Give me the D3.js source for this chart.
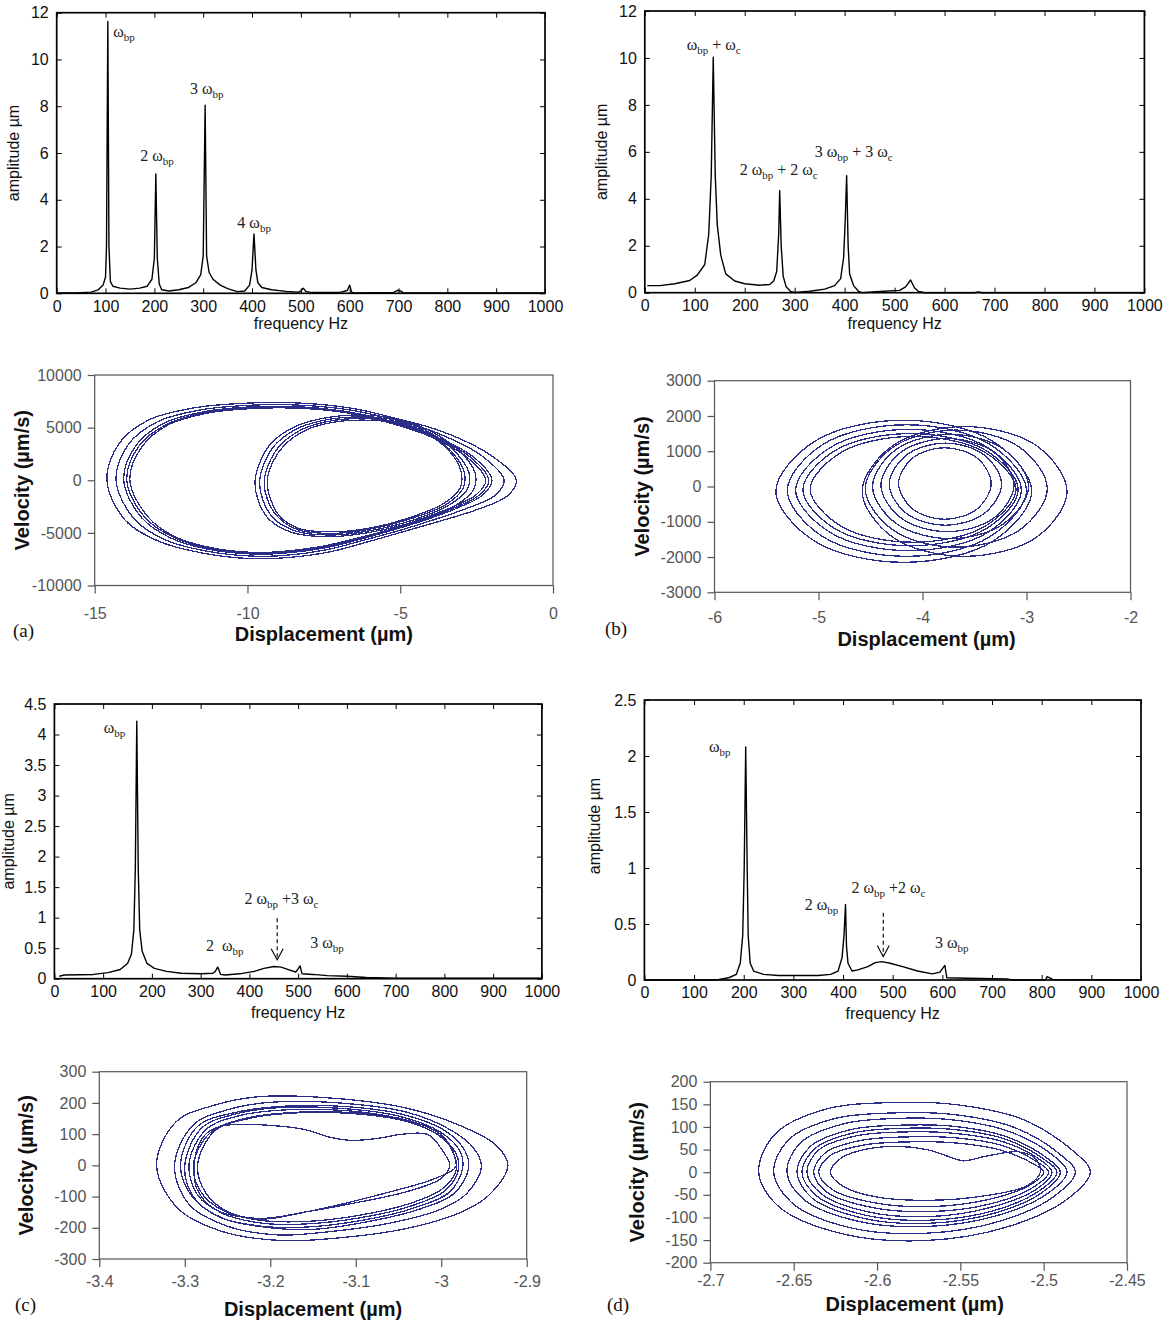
<!DOCTYPE html>
<html>
<head>
<meta charset="utf-8">
<script src="https://cdn.jsdelivr.net/npm/d3@7"></script>
<style>
  body { margin: 0; background: #fff; }
  text { white-space: pre; }
</style>
</head>
<body>
<svg id="fig" width="1173" height="1325"></svg>
<script>
// ---------- tick labels ----------
const freqTicks = [0, 100, 200, 300, 400, 500, 600, 700, 800, 900, 1000];
const ampTicksA = [0, 2, 4, 6, 8, 10, 12];
const ampTicksB = [0, 2, 4, 6, 8, 10, 12];
const ampTicksC = [0, 0.5, 1, 1.5, 2, 2.5, 3, 3.5, 4, 4.5];
const ampTicksD = [0, 0.5, 1, 1.5, 2, 2.5];

const dispTicksA = [-15, -10, -5, 0];
const velTicksA = [-10000, -5000, 0, 5000, 10000];
const dispTicksB = [-6, -5, -4, -3, -2];
const velTicksB = [-3000, -2000, -1000, 0, 1000, 2000, 3000];
const dispTicksC = [-3.4, -3.3, -3.2, -3.1, -3, -2.9];
const velTicksC = [-300, -200, -100, 0, 100, 200, 300];
const dispTicksD = [-2.7, -2.65, -2.6, -2.55, -2.5, -2.45];
const velTicksD = [-200, -150, -100, -50, 0, 50, 100, 150, 200];

// ---------- spectra [frequency Hz, amplitude um] ----------
const spectrumA = [[0,0.02],[40,0.02],[70,0.05],[85,0.15],[95,0.35],[100,0.7],[102,2.0],[104.7,11.63],[107,2.0],[110,0.5],[115,0.3],[130,0.22],[150,0.18],[170,0.22],[185,0.3],[195,0.6],[200,1.5],[203,5.1],[206,1.5],[210,0.4],[215,0.15],[230,0.1],[250,0.15],[270,0.25],[285,0.45],[295,0.8],[300,1.6],[304,8.04],[307,1.6],[312,0.9],[320,0.6],[335,0.35],[350,0.2],[370,0.07],[385,0.1],[395,0.35],[400,1.0],[404,2.54],[408,1.0],[412,0.45],[420,0.25],[440,0.15],[470,0.08],[495,0.05],[500,0.1],[505,0.22],[510,0.08],[520,0.04],[580,0.04],[595,0.12],[600,0.35],[604,0.05],[610,0.02],[690,0.04],[698,0.13],[704,0.1],[710,0.02],[1000,0.02]];
const spectrumB = [[5,0.3],[30,0.3],[60,0.38],[90,0.52],[105,0.75],[120,1.2],[128,2.5],[133,5.0],[137,10.03],[141,5.0],[145,2.9],[152,1.6],[162,0.8],[180,0.5],[200,0.38],[230,0.32],[250,0.35],[258,0.5],[264,0.9],[268,2.5],[270,4.35],[273,2.0],[277,0.7],[283,0.25],[292,0.05],[300,0.01],[330,0.06],[360,0.15],[380,0.3],[392,0.6],[398,1.5],[401,3.0],[404,4.98],[407,2.0],[410,0.8],[418,0.3],[428,0.05],[435,0.0],[470,0.05],[510,0.1],[522,0.25],[532,0.54],[540,0.2],[548,0.05],[560,0.0],[660,0.0],[668,0.03],[675,0.0],[1000,0.0]];
const spectrumC = [[10,0.04],[20,0.06],[80,0.07],[110,0.1],[135,0.15],[150,0.25],[158,0.4],[163,0.8],[166,1.8],[169,4.22],[172,1.8],[175,0.8],[180,0.45],[190,0.25],[205,0.17],[230,0.12],[260,0.09],[300,0.08],[325,0.09],[330,0.12],[335,0.19],[341,0.07],[350,0.06],[380,0.08],[410,0.12],[430,0.17],[450,0.2],[465,0.19],[480,0.15],[495,0.11],[500,0.16],[504,0.21],[508,0.08],[530,0.07],[560,0.05],[600,0.04],[640,0.02],[700,0.01],[1000,0.01]];
const spectrumD = [[0,0],[130,0],[150,0.005],[170,0.02],[185,0.05],[193,0.15],[198,0.4],[201,1.0],[204,2.08],[207,1.0],[209,0.4],[213,0.15],[220,0.08],[240,0.05],[270,0.04],[350,0.04],[375,0.05],[390,0.08],[398,0.2],[402,0.4],[405,0.675],[407,0.3],[410,0.15],[418,0.08],[430,0.09],[450,0.12],[465,0.155],[478,0.164],[495,0.15],[520,0.12],[550,0.08],[580,0.055],[595,0.07],[605,0.13],[609,0.02],[650,0.015],[730,0.01],[740,0.0],[808,0.0],[811,0.03],[822,0.005],[1000,0]];

// peak annotations, anchored at [frequency, amplitude]
const labelsA = [
  { f: 116, a: 10.95, t: "ω_{bp}" },
  { f: 171, a: 5.66, t: "2 ω_{bp}" },
  { f: 273, a: 8.51, t: "3 ω_{bp}" },
  { f: 370, a: 2.81, t: "4 ω_{bp}" }
];
const labelsB = [
  { f: 84, a: 10.34, t: "ω_{bp} + ω_{c}" },
  { f: 190, a: 5.01, t: "2 ω_{bp} + 2 ω_{c}" },
  { f: 340, a: 5.79, t: "3 ω_{bp} + 3 ω_{c}" }
];
const labelsC = [
  { f: 101, a: 4.02, t: "ω_{bp}" },
  { f: 311, a: 0.46, t: "2  ω_{bp}" },
  { f: 390, a: 1.23, t: "2 ω_{bp} +3 ω_{c}" },
  { f: 525, a: 0.50, t: "3 ω_{bp}" }
];
const labelsD = [
  { f: 130, a: 2.04, t: "ω_{bp}" },
  { f: 323, a: 0.625, t: "2 ω_{bp}" },
  { f: 417, a: 0.774, t: "2 ω_{bp} +2 ω_{c}" },
  { f: 585, a: 0.283, t: "3 ω_{bp}" }
];
const arrowC = { f: 457, from: 0.99, to: 0.31 };
const arrowD = { f: 481, from: 0.60, to: 0.21 };

// ---------- phase portraits: loops of [displacement um, velocity um/s] ----------
const phaseA = [
  [[-14.6,0],[-14.2,3500],[-13.25,5700],[-11.8,6850],[-10.2,7300],[-8.4,7350],[-6.6,6850],[-5.3,6000],[-3.6,4600],[-2.0,2300],[-1.2,0],[-1.5,-1500],[-2.4,-2700],[-3.6,-3800],[-4.8,-4800],[-6.0,-5800],[-7.3,-6800],[-8.7,-7350],[-9.9,-7450],[-11.5,-6900],[-12.9,-5800],[-14.0,-3800]],
  [[-14.3,0],[-13.9,3400],[-12.95,5550],[-11.6,6650],[-10.1,7100],[-8.4,7150],[-6.7,6700],[-5.4,5900],[-3.8,4500],[-2.3,2250],[-1.6,0],[-1.9,-1450],[-2.8,-2650],[-3.9,-3750],[-5.0,-4750],[-6.2,-5700],[-7.4,-6600],[-8.8,-7150],[-9.9,-7200],[-11.4,-6700],[-12.7,-5650],[-13.7,-3700]],
  [[-14.05,0],[-13.65,3300],[-12.75,5400],[-11.45,6500],[-10.0,6950],[-8.4,7000],[-6.8,6550],[-5.5,5750],[-4.0,4350],[-2.6,2200],[-2.0,0],[-2.3,-1400],[-3.1,-2600],[-4.1,-3700],[-5.2,-4700],[-6.3,-5600],[-7.5,-6450],[-8.9,-6950],[-9.9,-7000],[-11.3,-6550],[-12.5,-5500],[-13.45,-3600]],
  [[-13.95,0],[-13.55,3250],[-12.65,5300],[-11.4,6420],[-9.95,6880],[-8.4,6920],[-6.8,6500],[-5.55,5700],[-4.05,4300],[-2.7,2180],[-2.1,0],[-2.4,-1380],[-3.2,-2580],[-4.2,-3680],[-5.25,-4680],[-6.35,-5550],[-7.55,-6380],[-8.95,-6880],[-9.9,-6920],[-11.25,-6480],[-12.4,-5450],[-13.35,-3550]],
  [[-13.85,0],[-13.45,3200],[-12.6,5250],[-11.35,6350],[-9.95,6800],[-8.4,6850],[-6.85,6450],[-5.6,5650],[-4.1,4250],[-2.8,2150],[-2.2,0],[-2.5,-1350],[-3.3,-2550],[-4.3,-3650],[-5.3,-4650],[-6.4,-5500],[-7.6,-6300],[-9.0,-6800],[-9.9,-6850],[-11.2,-6400],[-12.35,-5400],[-13.25,-3500]],
  [[-9.75,0],[-9.55,2000],[-9.2,3600],[-8.4,5150],[-7.3,6000],[-6.2,6200],[-5.0,5750],[-3.9,4500],[-3.0,2600],[-2.55,700],[-2.6,-900],[-3.2,-2400],[-4.5,-3900],[-6.0,-4950],[-7.2,-5350],[-8.5,-5000],[-9.3,-3700],[-9.65,-1900]],
  [[-9.6,0],[-9.4,1950],[-9.05,3500],[-8.3,5000],[-7.2,5850],[-6.1,6000],[-4.95,5600],[-3.95,4400],[-3.15,2550],[-2.75,700],[-2.8,-850],[-3.4,-2350],[-4.6,-3800],[-6.0,-4800],[-7.2,-5200],[-8.4,-4850],[-9.15,-3600],[-9.5,-1850]],
  [[-9.45,0],[-9.25,1900],[-8.9,3400],[-8.2,4850],[-7.15,5700],[-6.05,5850],[-4.95,5450],[-4.0,4300],[-3.25,2500],[-2.9,700],[-2.95,-800],[-3.5,-2300],[-4.7,-3700],[-6.0,-4650],[-7.2,-5050],[-8.35,-4700],[-9.0,-3500],[-9.35,-1800]],
  [[-9.35,0],[-9.15,1850],[-8.8,3300],[-8.1,4750],[-7.1,5550],[-6.0,5700],[-4.9,5350],[-4.0,4200],[-3.3,2450],[-3.0,700],[-3.05,-800],[-3.6,-2250],[-4.75,-3600],[-6.0,-4550],[-7.2,-4900],[-8.3,-4600],[-8.95,-3400],[-9.25,-1750]]
];
const phaseB = [
  [[-5.41,-135],[-5.04,1275],[-4.18,1880],[-3.32,1275],[-2.95,-135],[-3.32,-1545],[-4.18,-2150],[-5.04,-1545]],
  [[-5.30,-115],[-4.96,1190],[-4.15,1750],[-3.35,1190],[-3.00,-115],[-3.35,-1420],[-4.15,-1980],[-4.96,-1420]],
  [[-5.22,-100],[-4.89,1100],[-4.13,1620],[-3.37,1100],[-3.05,-100],[-3.37,-1300],[-4.13,-1820],[-4.89,-1300]],
  [[-5.15,-90],[-4.84,1020],[-4.12,1500],[-3.39,1020],[-3.08,-90],[-3.39,-1200],[-4.12,-1680],[-4.84,-1200]],
  [[-5.08,-80],[-4.78,970],[-4.09,1420],[-3.40,970],[-3.10,-80],[-3.40,-1130],[-4.09,-1580],[-4.78,-1130]],
  [[-4.23,85],[-4.10,795],[-3.79,1100],[-3.47,795],[-3.34,85],[-3.47,-625],[-3.79,-930],[-4.10,-625]],
  [[-4.32,65],[-4.16,880],[-3.78,1230],[-3.40,880],[-3.24,65],[-3.40,-750],[-3.78,-1100],[-4.16,-750]],
  [[-4.40,40],[-4.21,965],[-3.76,1360],[-3.31,965],[-3.12,40],[-3.31,-885],[-3.76,-1280],[-4.21,-885]],
  [[-4.48,0],[-4.26,1036],[-3.73,1480],[-3.21,1036],[-2.98,0],[-3.21,-1036],[-3.73,-1480],[-4.26,-1036]],
  [[-4.55,-60],[-4.29,1100],[-3.68,1600],[-3.06,1100],[-2.80,-60],[-3.06,-1220],[-3.68,-1720],[-4.29,-1220]],
  [[-4.58,-140],[-4.29,1150],[-3.60,1700],[-2.90,1150],[-2.61,-140],[-2.90,-1430],[-3.60,-1980],[-4.29,-1430]]
];
const phaseC = [
  [[-3.333,0],[-3.31,140],[-3.265,193],[-3.213,220],[-3.126,215],[-3.04,183],[-2.975,124],[-2.936,65],[-2.922,0],[-2.944,-95],[-2.975,-148],[-3.04,-202],[-3.126,-234],[-3.187,-241],[-3.256,-212],[-3.308,-138]],
  [[-3.312,0],[-3.29,130],[-3.25,178],[-3.20,202],[-3.12,200],[-3.04,170],[-2.99,115],[-2.962,55],[-2.953,-5],[-2.97,-90],[-3.00,-140],[-3.06,-185],[-3.14,-215],[-3.19,-223],[-3.25,-195],[-3.295,-125]],
  [[-3.300,0],[-3.28,120],[-3.24,165],[-3.19,185],[-3.12,183],[-3.05,158],[-3.00,105],[-2.978,45],[-2.975,-10],[-2.99,-85],[-3.03,-135],[-3.09,-175],[-3.16,-198],[-3.21,-195],[-3.26,-165],[-3.29,-100]],
  [[-3.295,5],[-3.275,115],[-3.235,160],[-3.18,178],[-3.11,175],[-3.05,150],[-3.005,100],[-2.983,40],[-2.98,-15],[-2.995,-80],[-3.035,-130],[-3.095,-168],[-3.16,-188],[-3.21,-185],[-3.255,-155],[-3.285,-95]],
  [[-3.29,0],[-3.27,105],[-3.23,150],[-3.17,170],[-3.10,168],[-3.04,145],[-3.00,98],[-2.985,35],[-2.983,-20],[-3.00,-78],[-3.04,-125],[-3.10,-162],[-3.16,-180],[-3.215,-175],[-3.255,-145],[-3.28,-90]],
  [[-3.305,0],[-3.285,125],[-3.24,170],[-3.18,190],[-3.11,188],[-3.045,163],[-2.995,110],[-2.972,45],[-2.968,-10],[-2.985,-90],[-3.025,-140],[-3.085,-180],[-3.15,-205],[-3.20,-200],[-3.255,-170],[-3.29,-105]],
  [[-3.289,0],[-3.283,70],[-3.27,112],[-3.247,130],[-3.20,128],[-3.16,115],[-3.13,90],[-3.105,80],[-3.075,86],[-3.045,100],[-3.015,98],[-2.998,45],[-2.99,0],[-3.0,-42],[-3.04,-84],[-3.104,-122],[-3.156,-148],[-3.213,-170],[-3.265,-140],[-3.286,-74]],
  [[-3.285,0],[-3.265,110],[-3.225,150],[-3.17,168],[-3.10,165],[-3.04,140],[-3.0,92],[-2.985,35],[-2.983,-5],[-3.01,-45],[-3.06,-85],[-3.104,-116],[-3.156,-148],[-3.21,-172],[-3.25,-148],[-3.275,-90]]
];
const phaseD = [
  [[-2.671,0],[-2.661,85],[-2.631,139],[-2.591,154],[-2.552,149],[-2.512,116],[-2.482,46],[-2.472,0],[-2.486,-60],[-2.522,-121],[-2.571,-151],[-2.621,-136],[-2.659,-76]],
  [[-2.662,0],[-2.653,72],[-2.626,118],[-2.590,131],[-2.553,127],[-2.517,98],[-2.490,39],[-2.481,0],[-2.494,-54],[-2.526,-108],[-2.571,-135],[-2.617,-122],[-2.651,-68]],
  [[-2.654,0],[-2.646,65],[-2.620,107],[-2.587,119],[-2.553,115],[-2.520,89],[-2.494,36],[-2.486,0],[-2.498,-48],[-2.528,-96],[-2.570,-120],[-2.612,-108],[-2.644,-60]],
  [[-2.648,0],[-2.640,57],[-2.616,94],[-2.585,104],[-2.553,101],[-2.522,78],[-2.498,31],[-2.490,0],[-2.501,-45],[-2.529,-90],[-2.569,-113],[-2.608,-102],[-2.639,-57]],
  [[-2.645,0],[-2.637,53],[-2.614,87],[-2.584,97],[-2.553,94],[-2.523,73],[-2.500,29],[-2.492,0],[-2.503,-42],[-2.530,-85],[-2.568,-106],[-2.607,-95],[-2.636,-53]],
  [[-2.642,0],[-2.635,49],[-2.613,80],[-2.583,89],[-2.554,86],[-2.524,67],[-2.502,27],[-2.495,0],[-2.505,-39],[-2.532,-78],[-2.568,-98],[-2.605,-88],[-2.633,-49]],
  [[-2.638,0],[-2.631,43],[-2.610,70],[-2.582,78],[-2.553,76],[-2.525,59],[-2.504,23],[-2.497,0],[-2.507,-35],[-2.532,-70],[-2.567,-87],[-2.603,-78],[-2.630,-44]],
  [[-2.635,0],[-2.628,37],[-2.608,60],[-2.581,67],[-2.554,65],[-2.527,50],[-2.507,20],[-2.500,0],[-2.509,-30],[-2.534,-61],[-2.567,-76],[-2.601,-68],[-2.627,-38]],
  [[-2.628,0],[-2.622,30],[-2.61,48],[-2.59,57],[-2.57,50],[-2.555,32],[-2.548,25],[-2.535,35],[-2.515,45],[-2.505,30],[-2.502,0],[-2.51,-30],[-2.535,-52],[-2.567,-62],[-2.60,-55],[-2.62,-32]]
];

// ---------- drawing ----------
const svg = d3.select("#fig");
svg.append("rect").attr("width", 1173).attr("height", 1325).attr("fill", "#fff");

const sans = "'Liberation Sans', Arial, Helvetica, sans-serif";
const serif = "'Liberation Serif', 'Times New Roman', Times, serif";
const fmt = v => String(v);

// text with _{sub} subscripts
function richText(sel, str) {
    let shifted = false;
    str.split(/(_\{[^}]*\})/).filter(s => s.length).forEach(part => {
        const sub = part.startsWith("_{");
        const ts = sel.append("tspan").text(sub ? part.slice(2, -1) : part);
        if (sub) { ts.attr("font-size", 11).attr("dy", 4); shifted = true; }
        else if (shifted) { ts.attr("dy", -4); shifted = false; }
    });
}

function drawSpectrum(p) {
    const g = svg.append("g");
    const x = d3.scaleLinear().domain([0, 1000]).range([p.left, p.right]);
    const y = d3.scaleLinear().domain([0, p.yMax]).range([p.bottom, p.top]);

    // spectrum line
    g.append("path")
        .datum(p.data)
        .attr("fill", "none")
        .attr("stroke", "#000")
        .attr("stroke-width", 1.4)
        .attr("stroke-linejoin", "round")
        .attr("d", d3.line().x(d => x(d[0])).y(d => y(d[1])));

    // axes, ticks inward on all sides
    const axes = [
        [d3.axisBottom(x).tickValues(freqTicks).tickFormat(fmt).tickPadding(7), `translate(0,${p.bottom})`],
        [d3.axisLeft(y).tickValues(p.yTicks).tickFormat(fmt).tickPadding(8), `translate(${p.left},0)`],
        [d3.axisTop(x).tickValues(freqTicks).tickFormat(""), `translate(0,${p.top})`],
        [d3.axisRight(y).tickValues(p.yTicks).tickFormat(""), `translate(${p.right},0)`]
    ];
    axes.forEach(([ax, tr]) => {
        const a = g.append("g").attr("transform", tr).call(ax.tickSize(-5));
        a.select(".domain").remove();
        a.selectAll(".tick line").attr("stroke", "#000");
        a.selectAll("text").attr("fill", "#111");
        a.attr("font-family", sans).attr("font-size", 16);
    });

    g.append("rect")
        .attr("x", p.left).attr("y", p.top)
        .attr("width", p.right - p.left).attr("height", p.bottom - p.top)
        .attr("fill", "none").attr("stroke", "#000").attr("stroke-width", 1.7);

    // axis titles
    g.append("text")
        .attr("x", (p.left + p.right) / 2).attr("y", p.bottom + p.xTitleDy)
        .attr("text-anchor", "middle")
        .attr("font-family", sans).attr("font-size", 16).attr("fill", "#111")
        .text("frequency Hz");
    g.append("text")
        .attr("transform", `translate(${p.left + p.yTitleDx},${(p.top + p.bottom) / 2 + p.yTitleDy}) rotate(-90)`)
        .attr("text-anchor", "middle")
        .attr("font-family", sans).attr("font-size", 16).attr("fill", "#111")
        .text("amplitude µm");

    // peak annotations
    p.labels.forEach(l => {
        const t = g.append("text")
            .attr("x", x(l.f)).attr("y", y(l.a))
            .attr("font-family", serif).attr("font-size", 16).attr("fill", "#222");
        richText(t, l.t);
    });

    if (p.arrow) {
        const ax = x(p.arrow.f), y0 = y(p.arrow.from), y1 = y(p.arrow.to);
        g.append("line")
            .attr("x1", ax).attr("x2", ax).attr("y1", y0).attr("y2", y1)
            .attr("stroke", "#000").attr("stroke-width", 1.1).attr("stroke-dasharray", "4,3");
        g.append("path")
            .attr("d", `M${ax - 6},${y1 - 11}L${ax},${y1}L${ax + 6},${y1 - 11}`)
            .attr("fill", "none").attr("stroke", "#000").attr("stroke-width", 1.1);
    }
}

function drawPhase(p) {
    const g = svg.append("g");
    const x = d3.scaleLinear().domain(p.xDomain).range([p.left, p.right]);
    const y = d3.scaleLinear().domain(p.yDomain).range([p.bottom, p.top]);

    g.append("rect")
        .attr("x", p.left).attr("y", p.top)
        .attr("width", p.right - p.left).attr("height", p.bottom - p.top)
        .attr("fill", "none").attr("stroke", "#555").attr("stroke-width", 1.2);

    const loop = d3.line()
        .curve(d3.curveCatmullRomClosed.alpha(0.5))
        .x(d => x(d[0])).y(d => y(d[1]));

    // rings drawn aliased to get the stepped look of the original plot
    g.selectAll(".ring")
        .data(p.rings)
        .join("path")
        .attr("class", "ring")
        .attr("fill", "none")
        .attr("stroke", "#2b2e86")
        .attr("stroke-width", 1.3)
        .attr("shape-rendering", "crispEdges")
        .attr("d", loop);

    const yAx = g.append("g").attr("transform", `translate(${p.left},0)`)
        .call(d3.axisLeft(y).tickValues(p.yTicks).tickFormat(fmt).tickSize(7).tickPadding(6));
    const xAx = g.append("g").attr("transform", `translate(0,${p.bottom})`)
        .call(d3.axisBottom(x).tickValues(p.xTicks).tickFormat(fmt).tickSize(8).tickPadding(p.xPad));
    [yAx, xAx].forEach(a => {
        a.select(".domain").remove();
        a.selectAll(".tick line").attr("stroke", "#555").attr("stroke-width", 1.2);
        a.selectAll("text").attr("fill", "#555");
        a.attr("font-family", sans).attr("font-size", 16);
    });

    g.append("text")
        .attr("x", (p.left + p.right) / 2 + p.xTitleDx).attr("y", p.bottom + p.xTitleDy)
        .attr("text-anchor", "middle")
        .attr("font-family", sans).attr("font-size", 20).attr("font-weight", "bold").attr("fill", "#111")
        .text("Displacement (µm)");
    g.append("text")
        .attr("transform", `translate(${p.left - 66},${(p.top + p.bottom) / 2}) rotate(-90)`)
        .attr("text-anchor", "middle")
        .attr("font-family", sans).attr("font-size", 20).attr("font-weight", "bold").attr("fill", "#111")
        .text("Velocity (µm/s)");

    svg.append("text")
        .attr("x", p.tag[0]).attr("y", p.tag[1])
        .attr("font-family", serif).attr("font-size", 19).attr("fill", "#111")
        .text(p.tag[2]);
}

// spectra
drawSpectrum({ left: 56.7, right: 545, top: 12.7, bottom: 293.3, yMax: 12, yTicks: ampTicksA,
    data: spectrumA, labels: labelsA, xTitleDy: 36, yTitleDx: -38, yTitleDy: 0 });
drawSpectrum({ left: 644.8, right: 1144.4, top: 11, bottom: 292.7, yMax: 12, yTicks: ampTicksB,
    data: spectrumB, labels: labelsB, xTitleDy: 36, yTitleDx: -38, yTitleDy: 0 });
drawSpectrum({ left: 54.4, right: 541.9, top: 704, bottom: 978.7, yMax: 4.5, yTicks: ampTicksC,
    data: spectrumC, labels: labelsC, arrow: arrowC, xTitleDy: 39, yTitleDx: -40, yTitleDy: 0 });
drawSpectrum({ left: 644.4, right: 1141, top: 700, bottom: 980, yMax: 2.5, yTicks: ampTicksD,
    data: spectrumD, labels: labelsD, arrow: arrowD, xTitleDy: 39, yTitleDx: -44, yTitleDy: -14 });

// phase portraits
drawPhase({ left: 94.7, right: 553, top: 375, bottom: 585.5, xDomain: [-15, 0], yDomain: [-10000, 10000],
    xTicks: dispTicksA, yTicks: velTicksA, rings: phaseA, xPad: 14, xTitleDx: 0, xTitleDy: 55, tag: [13, 637, "(a)"] });
drawPhase({ left: 714.5, right: 1130.5, top: 380.7, bottom: 592.3, xDomain: [-6, -2], yDomain: [-3000, 3000],
    xTicks: dispTicksB, yTicks: velTicksB, rings: phaseB, xPad: 11, xTitleDx: 4, xTitleDy: 54, tag: [605, 635, "(b)"] });
drawPhase({ left: 99.3, right: 526.7, top: 1071.7, bottom: 1259, xDomain: [-3.4, -2.9], yDomain: [-300, 300],
    xTicks: dispTicksC, yTicks: velTicksC, rings: phaseC, xPad: 9, xTitleDx: 0, xTitleDy: 57, tag: [15, 1311, "(c)"] });
drawPhase({ left: 710.4, right: 1127, top: 1081.7, bottom: 1262.7, xDomain: [-2.7, -2.45], yDomain: [-200, 200],
    xTicks: dispTicksD, yTicks: velTicksD, rings: phaseD, xPad: 4, xTitleDx: -4, xTitleDy: 48, tag: [607, 1311, "(d)"] });
</script>
</body>
</html>
